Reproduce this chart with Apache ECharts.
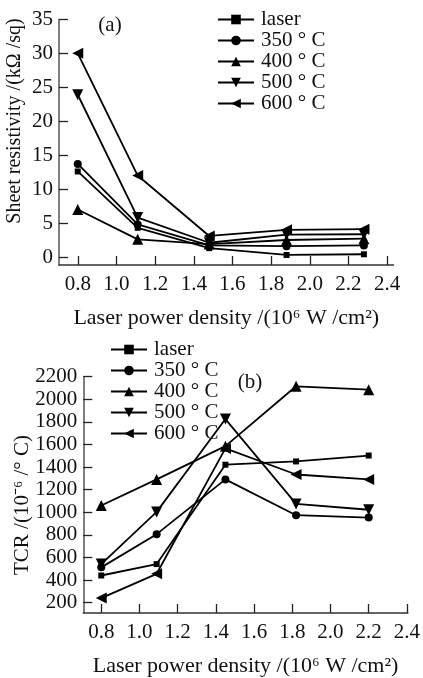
<!DOCTYPE html>
<html><head><meta charset="utf-8">
<script src="https://cdn.jsdelivr.net/npm/echarts@6/dist/echarts.min.js"></script>
<style>html,body{margin:0;padding:0;background:#fff}#c{width:423px;height:678px}</style>
</head><body><div id="c"></div>
<script>
// ---- data ----
const seriesNames = ['laser', '350 ° C', '400 ° C', '500 ° C', '600 ° C'];
const xTickValues = [0.8, 1.0, 1.2, 1.4, 1.6, 1.8, 2.0, 2.2, 2.4];
// (a) sheet resistivity
const xPowerA = [0.8, 1.11, 1.48, 1.88, 2.28];
const resLaser = [12.6, 4.3, 1.3, 0.3, 0.4];
const res350 = [13.7, 4.8, 1.7, 1.6, 1.7];
const res400 = [7.0, 2.6, 1.9, 2.5, 2.7];
const res500 = [23.9, 5.8, 2.1, 3.3, 3.35];
const res600 = [30.0, 12.0, 3.1, 4.0, 4.1];
const yTickValuesA = [0, 5, 10, 15, 20, 25, 30, 35];
// (b) TCR
const xPowerB = [0.8, 1.09, 1.45, 1.82, 2.2];
const tcrLaser = [440, 541, 1421, 1450, 1502];
const tcr350 = [512, 806, 1291, 974, 953];
const tcr400 = [1060, 1291, 1585, 2115, 2085];
const tcr500 = [541, 1003, 1825, 1074, 1022];
const tcr600 = [240, 455, 1565, 1334, 1291];
const yTickValuesB = [200, 400, 600, 800, 1000, 1200, 1400, 1600, 1800, 2000, 2200];

const FONT = 'Liberation Serif';
const FS = 21;
const symbols = ['rect', 'circle', 'triangle', 'path://M0,0 L10,0 L5,10 Z', 'path://M10,0 L10,10 L0,5 Z'];
const symSizes = [6, 8, 11, 11, 11];

function pairs(xs, ys) { return xs.map((x, i) => [x, ys[i]]); }

function makeSeries(xs, ysList, idx) {
  return ysList.map((ys, i) => ({
    name: seriesNames[i], type: 'line', xAxisIndex: idx, yAxisIndex: idx,
    data: pairs(xs, ys), symbol: symbols[i], symbolSize: symSizes[i],
    lineStyle: { color: '#000', width: 1.8 }, itemStyle: { color: '#000' },
    emphasis: { disabled: true }
  }));
}

function xAxisCfg(grid, min, max) {
  return {
    gridIndex: grid, type: 'value', min: min, max: max,
    axisLine: { onZero: false, lineStyle: { color: '#333', width: 1.5 } },
    axisTick: { inside: true, length: 9, customValues: xTickValues, lineStyle: { color: '#222', width: 1.3 } },
    axisLabel: { customValues: xTickValues, formatter: v => v.toFixed(1), margin: 9, fontSize: FS, color: '#111', fontFamily: FONT },
    splitLine: { show: false },
    name: 'Laser power density /(10⁶ W /cm²)', nameLocation: 'middle', nameGap: 42,
    nameTextStyle: { fontSize: 22, color: '#111', fontFamily: FONT }
  };
}
function yAxisCfg(grid, min, max, ticks) {
  return {
    gridIndex: grid, type: 'value', min: min, max: max,
    axisLine: { show: true, onZero: false, lineStyle: { color: '#555', width: 1.5 } },
    axisTick: { show: true, inside: true, length: 9, customValues: ticks, lineStyle: { color: '#222', width: 1.3 } },
    axisLabel: { customValues: ticks, formatter: v => String(v), margin: 6, fontSize: FS, color: '#111', fontFamily: FONT },
    splitLine: { show: false }
  };
}
function legendCfg(left, top) {
  return {
    orient: 'vertical', left: left, top: top, itemWidth: 36, itemHeight: 12, itemGap: 0,
    data: seriesNames, selectedMode: false,
    textStyle: { fontSize: FS, lineHeight: 21, color: '#111', fontFamily: FONT, padding: [0, 0, 0, 2] }
  };
}

const chart = echarts.init(document.getElementById('c'), null, { renderer: 'canvas' });
chart.setOption({
  animation: false,
  backgroundColor: '#fff',
  textStyle: { fontFamily: FONT },
  grid: [
    { left: 59, right: 29.5, top: 19.4, bottom: 413 },
    { left: 83.3, right: 11, top: 376.7, bottom: 59.7 }
  ],
  xAxis: [xAxisCfg(0, 0.703, 2.433), xAxisCfg(1, 0.706, 2.405)],
  yAxis: [yAxisCfg(0, -1.18, 35, yTickValuesA), yAxisCfg(1, 108, 2200, yTickValuesB)],
  legend: [legendCfg(212, 4), legendCfg(105, 334)],
  series: makeSeries(xPowerA, [resLaser, res350, res400, res500, res600], 0)
    .concat(makeSeries(xPowerB, [tcrLaser, tcr350, tcr400, tcr500, tcr600], 1)),
  graphic: [
    { type: 'text', x: 15, y: 121, rotation: Math.PI / 2,
      style: { text: 'Sheet resistivity /(kΩ /sq)', font: '20px "Liberation Serif"', fill: '#111', align: 'center', verticalAlign: 'middle' } },
    { type: 'text', x: 22, y: 505, rotation: Math.PI / 2,
      style: { text: 'TCR /(10⁻⁶ /° C)', font: '21px "Liberation Serif"', fill: '#111', align: 'center', verticalAlign: 'middle' } },
    { type: 'text', x: 110, y: 25, style: { text: '(a)', font: '21px "Liberation Serif"', fill: '#111', align: 'center', verticalAlign: 'middle' } },
    { type: 'text', x: 250, y: 382, style: { text: '(b)', font: '21px "Liberation Serif"', fill: '#111', align: 'center', verticalAlign: 'middle' } }
  ]
});
</script></body></html>
